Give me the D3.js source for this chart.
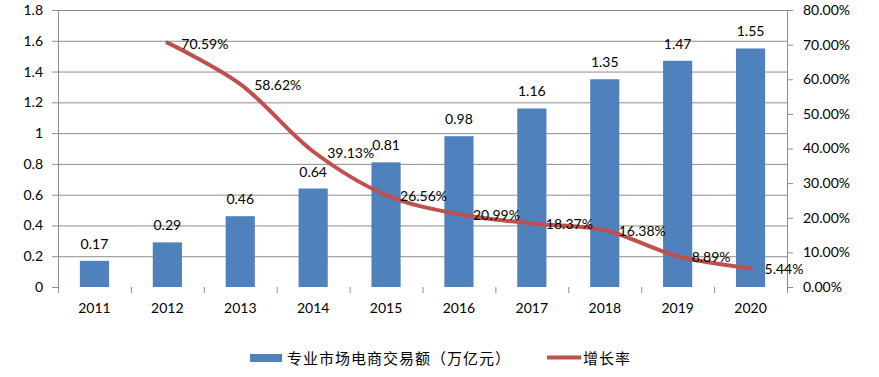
<!DOCTYPE html>
<html>
<head>
<meta charset="utf-8">
<script src="https://cdn.jsdelivr.net/npm/d3@7"></script>
<style>
  body { margin: 0; background: #fff; }
  text { font-family: Lato, "Noto Sans CJK SC", sans-serif; fill: #000; }
</style>
</head>
<body>
<svg></svg>
<script>
const years = ["2011", "2012", "2013", "2014", "2015", "2016", "2017", "2018", "2019", "2020"];
const volume = [0.17, 0.29, 0.46, 0.64, 0.81, 0.98, 1.16, 1.35, 1.47, 1.55];
const growthYears = ["2012", "2013", "2014", "2015", "2016", "2017", "2018", "2019", "2020"];
const growth = [70.59, 58.62, 39.13, 26.56, 20.99, 18.37, 16.38, 8.89, 5.44];
const leftTicks = [0, 0.2, 0.4, 0.6, 0.8, 1, 1.2, 1.4, 1.6, 1.8];
const rightTicks = [0, 10, 20, 30, 40, 50, 60, 70, 80];
const barName = "专业市场电商交易额（万亿元）";
const lineName = "增长率";

const width = 879;
const height = 377;
const margin = {top: 10, right: 92, bottom: 90, left: 58};
const viewWidth = width - margin.left - margin.right;
const viewHeight = height - margin.top - margin.bottom;

const svg = d3.select("svg")
  .attr("width", width)
  .attr("height", height);

const g = svg.append("g")
  .attr("transform", "translate(" + margin.left + "," + margin.top + ")");

const x = d3.scaleBand()
  .domain(years)
  .range([0, viewWidth]);

const yLeft = d3.scaleLinear()
  .domain([0, 1.8])
  .range([viewHeight, 0]);

const yRight = d3.scaleLinear()
  .domain([0, 80])
  .range([viewHeight, 0]);

// gridlines
g.append("g")
  .selectAll("line")
  .data(leftTicks.slice(1))
  .enter()
  .append("line")
  .attr("x1", 0)
  .attr("x2", viewWidth)
  .attr("y1", d => yLeft(d) + 0.5)
  .attr("y2", d => yLeft(d) + 0.5)
  .style("stroke", "#8c8c8c")
  .style("stroke-width", 1);

// left axis
const leftAxis = g.append("g")
  .call(d3.axisLeft(yLeft).tickValues(leftTicks).tickFormat(d => d).tickSize(6).tickPadding(9));

// right axis
const rightAxis = g.append("g")
  .attr("transform", "translate(" + viewWidth + ",0)")
  .call(d3.axisRight(yRight).tickValues(rightTicks).tickFormat(d => d.toFixed(2) + "%").tickSize(6).tickPadding(10));

// bottom axis, ticks on category boundaries
const bottomAxis = g.append("g")
  .attr("transform", "translate(0," + viewHeight + ")")
  .call(d3.axisBottom(x).tickSize(0).tickPadding(16));

g.append("g")
  .selectAll("line")
  .data(years.concat(["end"]))
  .enter()
  .append("line")
  .attr("x1", (d, i) => i * x.step() + 0.5)
  .attr("x2", (d, i) => i * x.step() + 0.5)
  .attr("y1", viewHeight)
  .attr("y2", viewHeight + 6)
  .style("stroke", "#8c8c8c");

[leftAxis, rightAxis, bottomAxis].forEach(a => {
  a.selectAll(".domain").style("stroke", "#8c8c8c");
  a.selectAll(".tick line").style("stroke", "#8c8c8c");
  a.selectAll("text").style("font-size", "14px").style("fill", "#000");
});
leftAxis.selectAll(".domain").attr("d", "M0.5," + viewHeight + "V0");
rightAxis.selectAll(".domain").attr("d", "M0.5," + viewHeight + "V0");
bottomAxis.selectAll(".domain").attr("d", "M0," + (viewHeight + 0.5) + "H" + viewWidth);

// bars
const barWidth = x.step() * 0.4;
g.append("g")
  .selectAll("rect")
  .data(volume)
  .enter()
  .append("rect")
  .attr("x", (d, i) => x(years[i]) + x.bandwidth() / 2 - barWidth / 2)
  .attr("y", d => yLeft(d))
  .attr("width", barWidth)
  .attr("height", d => viewHeight - yLeft(d))
  .style("fill", "#4f81bd");

g.append("g")
  .selectAll("text")
  .data(volume)
  .enter()
  .append("text")
  .attr("x", (d, i) => x(years[i]) + x.bandwidth() / 2)
  .attr("y", d => yLeft(d) - 12)
  .attr("text-anchor", "middle")
  .style("font-size", "14px")
  .text(d => d.toFixed(2));

// growth line
const line = d3.line()
  .x((d, i) => x(growthYears[i]) + x.bandwidth() / 2)
  .y(d => yRight(d))
  .curve(d3.curveCatmullRom.alpha(0.5));

g.append("path")
  .datum(growth)
  .attr("d", line)
  .style("fill", "none")
  .style("stroke", "#c0504d")
  .style("stroke-width", 4)
  .style("stroke-linecap", "round");

g.append("g")
  .selectAll("text")
  .data(growth)
  .enter()
  .append("text")
  .attr("x", (d, i) => x(growthYears[i]) + x.bandwidth() / 2 + 14)
  .attr("y", d => yRight(d) + 6)
  .style("font-size", "14px")
  .text(d => d.toFixed(2) + "%");

// legend
const legend = svg.append("g");
legend.append("rect")
  .attr("x", 250)
  .attr("y", 354)
  .attr("width", 32)
  .attr("height", 8)
  .style("fill", "#4f81bd");
legend.append("text")
  .attr("x", 287)
  .attr("y", 364)
  .style("font-size", "15px")
  .style("letter-spacing", "1px")
  .text(barName);
legend.append("line")
  .attr("x1", 547)
  .attr("x2", 581)
  .attr("y1", 357.5)
  .attr("y2", 357.5)
  .style("stroke", "#c0504d")
  .style("stroke-width", 4);
legend.append("text")
  .attr("x", 583)
  .attr("y", 364)
  .style("font-size", "15px")
  .style("letter-spacing", "1px")
  .text(lineName);
</script>
</body>
</html>
